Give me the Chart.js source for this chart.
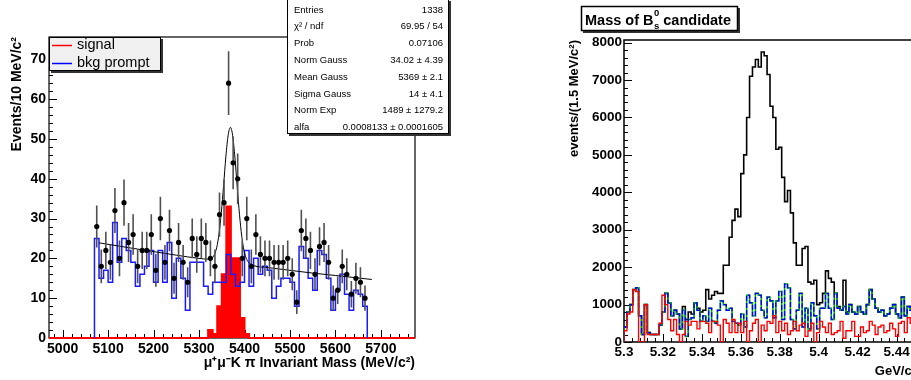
<!DOCTYPE html>
<html>
<head>
<meta charset="utf-8">
<script src="https://cdn.jsdelivr.net/npm/chart.js@4.4.1/dist/chart.umd.min.js"></script>
<style>
body { margin: 0; width: 911px; height: 380px; overflow: hidden; background: #fff; position: relative; }
#left { position: absolute; left: 0; top: 0; width: 460px; height: 380px; }
#right { position: absolute; left: 560px; top: 0; width: 360px; height: 380px; }
</style>
</head>
<body>
<div id="left"><canvas id="massCanvas"></canvas></div>
<div id="right"><canvas id="bsCanvas"></canvas></div>
<script>
// ------DATA: left plot, mu+mu-K pi invariant mass (10 MeV bins from 5070)--------
const massBinStart = 5070;
const massBinWidth = 10;
const eventsData = [28, 18, 22, 19, 32, 20, 34, 24, 26, 18, 22, 22, 26, 17, 30, 19, 27, 15, 24, 19,
                    14, 25, 21, 25, 24, 20, 18, 31, 34, 64, 44, 40, 20, 30, 18, 26, 21, 20, 20, 19,
                    19, 19, 20, 16, 9, 27, 25, 22, 16, 23, 24, 19, 10, 12, 18, 16, 11, 15, 14, 10];
const bkgPrompt = [25, 15, 17, 14, 29, 19, 25, 22, 19, 13, 16, 18, 22, 14, 22, 14, 24, 10, 20, 15,
                   7, 19, 19, 19, 13, 11, 14, 14, 14, 21, 16, 13, 14, 22, 13, 20, 16, 18, 17, 10,
                   13, 15, 15, 14, 8, 23, 20, 15, 12, 22, 21, 15, 7, 12, 16, 11, 7, 12, 11, 8];
const signalMC = [0, 0, 0, 0, 0, 0, 0, 0, 0, 0, 0, 0, 0, 0, 0, 0, 0, 0, 0, 0,
                  0, 0, 0, 0, 0, 2, 1, 8, 16, 33, 20, 20, 5, 1, 0, 0, 0, 0, 0, 0,
                  0, 0, 0, 0, 0, 0, 0, 0, 0, 0, 0, 0, 0, 0, 0, 0, 0, 0, 0, 0];
const fitMass = [5080, 5150, 5200, 5250, 5300, 5320, 5330, 5334, 5339, 5344, 5349, 5354, 5359, 5364, 5369,
                 5374, 5379, 5384, 5389, 5394, 5399, 5404, 5409, 5420, 5450, 5500, 5550, 5600, 5680];
const fitValue = [23.9, 22.6, 21.7, 20.8, 20.0, 19.8, 20.2, 21.0, 22.8, 26.2, 31.5, 38.3, 45.5, 50.9, 52.9,
                  50.8, 45.2, 37.9, 31.0, 25.5, 21.9, 20.0, 19.0, 18.2, 17.7, 17.0, 16.3, 15.7, 14.7];
const massTicks = [5000, 5100, 5200, 5300, 5400, 5500, 5600, 5700];
const eventTicks = [0, 10, 20, 30, 40, 50, 60, 70];
const statLabels = ["Entries", "\u03c7\u00b2 / ndf", "Prob", "Norm Gauss", "Mean Gauss", "Sigma Gauss", "Norm Exp", "alfa"];
const statValues = ["1338", "69.95 / 54", "0.07106", "34.02 \u00b1 4.39", "5369 \u00b1 2.1", "14 \u00b1 4.1",
                    "1489 \u00b1 1279.2", "0.0008133 \u00b1 0.0001605"];

// ------DATA: right plot, Bs0 candidate mass (1.5 MeV bins from 5.300 GeV)--------
const bsBinStart = 5.3;
const bsBinWidth = 0.0015;
const bsTotal = [400, 800, 1000, 1400, 1450, 700, 200, 1000, 250, 200, 200, 200, 450, 800, 1300, 1050, 700, 850, 750, 350,
                 950, 600, 800, 750, 1050, 900, 800, 850, 1400, 1150, 1250, 1350, 1300, 1300, 2050, 2050, 2800, 3250, 3550, 3350,
                 4500, 5000, 6000, 7100, 7350, 7550, 7350, 7750, 7650, 7150, 6300, 6000, 5150, 5200, 4400, 3750, 4050, 3450, 2650, 2050,
                 2050, 2500, 2550, 1600, 1550, 1650, 1000, 1050, 1300, 1900, 1700, 1600, 1300, 950, 850, 1650, 800, 1000, 800, 750,
                 950, 800, 750, 1000, 1400, 1150, 900, 800, 850, 700, 750, 900, 1000, 750, 650, 1200, 700, 950, 850, 900];
const bsBkg = [400, 800, 1000, 1400, 1450, 700, 200, 1000, 250, 200, 200, 200, 450, 800, 1300, 1050, 700, 850, 750, 350,
               850, 150, 600, 650, 1050, 850, 550, 700, 550, 900, 550, 500, 850, 1100, 1000, 850, 900, 550, 500, 450,
               750, 400, 1250, 1050, 700, 1300, 1250, 850, 650, 1200, 1100, 650, 1100, 1350, 600, 1550, 1450, 600, 350, 850,
               1300, 400, 900, 350, 1050, 700, 350, 900, 900, 1300, 900, 600, 1300, 900, 850, 950, 750, 1000, 800, 750,
               950, 800, 750, 1000, 1400, 1150, 900, 800, 850, 700, 750, 900, 1000, 750, 650, 1200, 700, 950, 850, 900];
const bsOther = [300, 750, 800, 1400, 1350, 0, 0, 1000, 200, 200, 200, 200, 500, 1250, 1000, 600, 300, 600, 200, 0,
                 200, 550, 450, 550, 550, 350, 550, 550, 500, 250, 550, 550, 450, 0, 600, 500, 250, 600, 250, 500,
                 250, 550, 0, 300, 500, 600, 0, 450, 300, 550, 500, 700, 250, 550, 300, 500, 200, 300, 550, 300,
                 450, 500, 150, 300, 500, 0, 250, 550, 400, 250, 500, 200, 250, 300, 550, 100, 300, 300, 550, 150,
                 150, 400, 250, 300, 550, 450, 200, 400, 450, 250, 300, 500, 350, 150, 500, 550, 250, 650, 500, 400];
const bsMassTicks = [5.3, 5.32, 5.34, 5.36, 5.38, 5.4, 5.42, 5.44];
const bsEventTicks = [0, 1000, 2000, 3000, 4000, 5000, 6000, 7000, 8000];

const FONT = '"Liberation Sans", Arial, Helvetica, sans-serif';

// histogram as a stepped outline: rise at first edge, drop at last edge
function histPoints(start, width, values, from, to) {
    const pts = [{ x: from !== undefined ? from : start, y: 0 }];
    values.forEach((v, i) => pts.push({ x: start + i * width, y: v }));
    pts.push({ x: start + values.length * width, y: 0 });
    if (to !== undefined) pts.push({ x: to, y: 0 });
    return pts;
}

// ROOT style frame with ticks pointing inwards
const rootAxes = {
    id: "rootAxes",
    beforeDatasetsDraw(chart, args, o) {
        const { ctx, chartArea: a, scales: { x, y } } = chart;
        const isMajor = (v, m) => Math.abs(v / m - Math.round(v / m)) < 1e-6;
        ctx.save();
        ctx.strokeStyle = "#000";
        ctx.lineWidth = o.frameWidth;
        ctx.strokeRect(a.left, a.top, a.right - a.left, a.bottom - a.top);
        ctx.lineWidth = 1;
        ctx.beginPath();
        for (let k = Math.ceil(x.min / o.xMinor - 1e-6); k * o.xMinor <= x.max + 1e-9; k++) {
            const v = k * o.xMinor;
            const px = Math.round(x.getPixelForValue(v)) + 0.5;
            ctx.moveTo(px, a.bottom);
            ctx.lineTo(px, a.bottom - (isMajor(v, o.xMajor) ? o.major : o.minor));
        }
        for (let k = Math.ceil(y.min / o.yMinor - 1e-6); k * o.yMinor <= y.max + 1e-9; k++) {
            const v = k * o.yMinor;
            const py = Math.round(y.getPixelForValue(v)) + 0.5;
            ctx.moveTo(a.left, py);
            ctx.lineTo(a.left + (isMajor(v, o.yMajor) ? o.major : o.minor), py);
        }
        ctx.stroke();
        ctx.restore();
    }
};

// vertical sqrt(N) error bars under the data points
const errorBars = {
    id: "errorBars",
    beforeDatasetDraw(chart, args) {
        const ds = chart.data.datasets[args.index];
        if (!ds.poissonErrors) return;
        const { ctx, scales: { y } } = chart;
        ctx.save();
        ctx.strokeStyle = "#505050";
        ctx.lineWidth = 1.6;
        ctx.beginPath();
        args.meta.data.forEach((pt, i) => {
            const n = ds.data[i].y;
            const e = Math.sqrt(n);
            ctx.moveTo(pt.x, y.getPixelForValue(n + e));
            ctx.lineTo(pt.x, y.getPixelForValue(n - e));
        });
        ctx.stroke();
        ctx.restore();
    }
};

function pave(ctx, x, y, w, h, fill, lw) {
    ctx.fillStyle = "#333";
    ctx.fillRect(x + 2, y + 2, w, h);
    ctx.fillStyle = fill;
    ctx.fillRect(x, y, w, h);
    ctx.strokeStyle = "#000";
    ctx.lineWidth = lw;
    ctx.strokeRect(x + 0.5, y + 0.5, w - 1, h - 1);
}

const massBoxes = {
    id: "massBoxes",
    afterDraw(chart) {
        const ctx = chart.ctx;
        ctx.save();
        // legend
        pave(ctx, 49, 37, 112, 34, "#f0f0f0", 1);
        ctx.lineWidth = 1.5;
        ctx.strokeStyle = "#ff0000";
        ctx.beginPath(); ctx.moveTo(52, 45.5); ctx.lineTo(72, 45.5); ctx.stroke();
        ctx.strokeStyle = "#0000ff";
        ctx.beginPath(); ctx.moveTo(52, 63.5); ctx.lineTo(72, 63.5); ctx.stroke();
        ctx.fillStyle = "#000";
        ctx.font = "14.5px " + FONT;
        ctx.textBaseline = "middle";
        ctx.fillText("signal", 77, 45);
        ctx.fillText("bkg prompt", 77, 63);
        // fit statistics
        pave(ctx, 287, -1, 162, 135, "#fff", 1);
        ctx.fillStyle = "#000";
        ctx.font = "9.5px " + FONT;
        statLabels.forEach((t, i) => {
            const yy = 10 + i * 16.8;
            ctx.textAlign = "left";
            ctx.fillText(t, 294, yy);
            ctx.textAlign = "right";
            ctx.fillText(statValues[i], 443, yy);
        });
        ctx.restore();
    }
};

const bsTitle = {
    id: "bsTitle",
    afterDraw(chart) {
        const ctx = chart.ctx;
        ctx.save();
        pave(ctx, 21, 6, 157, 25, "#fff", 1.5);
        ctx.fillStyle = "#000";
        ctx.textBaseline = "alphabetic";
        ctx.font = "bold 14.5px " + FONT;
        let x = 25;
        ctx.fillText("Mass of B", x, 25);
        x += ctx.measureText("Mass of B").width + 0.5;
        ctx.font = "bold 9.5px " + FONT;
        ctx.fillText("0", x, 16);
        ctx.fillText("s", x, 29);
        x += ctx.measureText("0").width;
        ctx.font = "bold 14.5px " + FONT;
        ctx.fillText(" candidate", x, 25);
        ctx.restore();
    }
};

// ------LEFT CHART--------
const massCanvas = document.getElementById("massCanvas");

const massChart = new Chart(massCanvas, {
    type: "line",
    data: {
        datasets: [
            {
                label: "data",
                data: eventsData.map((v, i) => ({ x: massBinStart + (i + 0.5) * massBinWidth, y: v })),
                showLine: false,
                pointRadius: 2.6,
                pointBackgroundColor: "#000",
                pointBorderWidth: 0,
                poissonErrors: true,
                order: 1
            },
            {
                label: "fit",
                data: fitMass.map((m, i) => ({ x: m, y: fitValue[i] })),
                borderColor: "#000",
                borderWidth: 1,
                pointRadius: 0,
                cubicInterpolationMode: "monotone",
                order: 2
            },
            {
                label: "bkg prompt",
                data: histPoints(massBinStart, massBinWidth, bkgPrompt),
                stepped: true,
                borderColor: "#1a1aff",
                borderWidth: 1.5,
                pointRadius: 0,
                order: 3
            },
            {
                label: "signal",
                data: histPoints(massBinStart, massBinWidth, signalMC, 4970, 5775),
                stepped: true,
                borderColor: "#ff0000",
                backgroundColor: "#ff0000",
                borderWidth: 2,
                fill: "origin",
                pointRadius: 0,
                clip: 4,
                order: 4
            }
        ]
    },
    options: {
        responsive: true,
        maintainAspectRatio: false,
        animation: false,
        events: [],
        layout: { padding: { top: 37, right: 45, left: 0, bottom: 0 } },
        scales: {
            x: {
                type: "linear",
                min: 4970,
                max: 5775,
                afterBuildTicks: (s) => { s.ticks = massTicks.map(v => ({ value: v })); },
                afterFit: (s) => { s.height = 42; },
                grid: { display: false, drawTicks: false },
                border: { display: false },
                ticks: { color: "#000", font: { family: FONT, size: 14, weight: "bold" }, padding: 3, maxRotation: 0,
                         callback: (v) => String(v) },
                title: {
                    display: true,
                    text: "\u03bc\u207a\u03bc\u207bK \u03c0 Invariant Mass (MeV/c\u00b2)",
                    align: "end",
                    color: "#000",
                    font: { family: FONT, size: 14, weight: "bold" },
                    padding: { top: 0, bottom: 8 }
                }
            },
            y: {
                min: 0,
                max: 75.6,
                afterBuildTicks: (s) => { s.ticks = eventTicks.map(v => ({ value: v })); },
                afterFit: (s) => { s.width = 49; },
                grid: { display: false, drawTicks: false },
                border: { display: false },
                ticks: { color: "#000", font: { family: FONT, size: 14, weight: "bold" }, padding: 3,
                         callback: (v) => String(v) },
                title: {
                    display: true,
                    text: "Events/10 MeV/c\u00b2",
                    align: "end",
                    color: "#000",
                    font: { family: FONT, size: 14, weight: "bold" },
                    padding: { top: 9, bottom: 0 }
                }
            }
        },
        plugins: {
            legend: { display: false },
            tooltip: { enabled: false },
            rootAxes: { xMajor: 100, xMinor: 20, yMajor: 10, yMinor: 2, major: 8, minor: 4, frameWidth: 1.2 }
        }
    },
    plugins: [rootAxes, errorBars, massBoxes]
});

// ------RIGHT CHART--------
const bsCanvas = document.getElementById("bsCanvas");

const bsChart = new Chart(bsCanvas, {
    type: "line",
    data: {
        datasets: [
            {
                label: "other",
                data: histPoints(bsBinStart, bsBinWidth, bsOther),
                stepped: true,
                borderColor: "#ff0000",
                borderWidth: 1.4,
                pointRadius: 0,
                order: 1
            },
            {
                label: "bkg (blue)",
                data: histPoints(bsBinStart, bsBinWidth, bsBkg),
                stepped: true,
                borderColor: "#0000ff",
                borderWidth: 1.4,
                borderDash: [5, 2],
                pointRadius: 0,
                order: 2
            },
            {
                label: "bkg (green)",
                data: histPoints(bsBinStart, bsBinWidth, bsBkg),
                stepped: true,
                borderColor: "#00b400",
                borderWidth: 1.6,
                pointRadius: 0,
                order: 3
            },
            {
                label: "total",
                data: histPoints(bsBinStart, bsBinWidth, bsTotal),
                stepped: true,
                borderColor: "#000",
                borderWidth: 1.6,
                pointRadius: 0,
                order: 4
            }
        ]
    },
    options: {
        responsive: true,
        maintainAspectRatio: false,
        animation: false,
        events: [],
        layout: { padding: { top: 40, right: 4, left: 0, bottom: 0 } },
        scales: {
            x: {
                type: "linear",
                min: 5.3,
                max: 5.45,
                afterBuildTicks: (s) => { s.ticks = bsMassTicks.map(v => ({ value: v })); },
                afterFit: (s) => { s.height = 38; },
                grid: { display: false, drawTicks: false },
                border: { display: false },
                ticks: { color: "#000", font: { family: FONT, size: 13.5, weight: "bold" }, padding: 2, maxRotation: 0,
                         callback: (v) => String(v) },
                title: {
                    display: true,
                    text: "GeV/c\u00b2",
                    align: "end",
                    color: "#000",
                    font: { family: FONT, size: 13, weight: "bold" },
                    padding: { top: 0, bottom: 1 }
                }
            },
            y: {
                min: 0,
                max: 8070,
                afterBuildTicks: (s) => { s.ticks = bsEventTicks.map(v => ({ value: v })); },
                afterFit: (s) => { s.width = 64; },
                grid: { display: false, drawTicks: false },
                border: { display: false },
                ticks: { color: "#000", font: { family: FONT, size: 13.5, weight: "bold" }, padding: 2,
                         callback: (v) => String(v) },
                title: {
                    display: true,
                    text: "events/(1.5 MeV/c\u00b2)",
                    align: "end",
                    color: "#000",
                    font: { family: FONT, size: 13, weight: "bold" },
                    padding: { top: 7, bottom: 0 }
                }
            }
        },
        plugins: {
            legend: { display: false },
            tooltip: { enabled: false },
            rootAxes: { xMajor: 0.02, xMinor: 0.004, yMajor: 1000, yMinor: 200, major: 8, minor: 4, frameWidth: 1.5 }
        }
    },
    plugins: [rootAxes, bsTitle]
});
</script>
</body>
</html>
